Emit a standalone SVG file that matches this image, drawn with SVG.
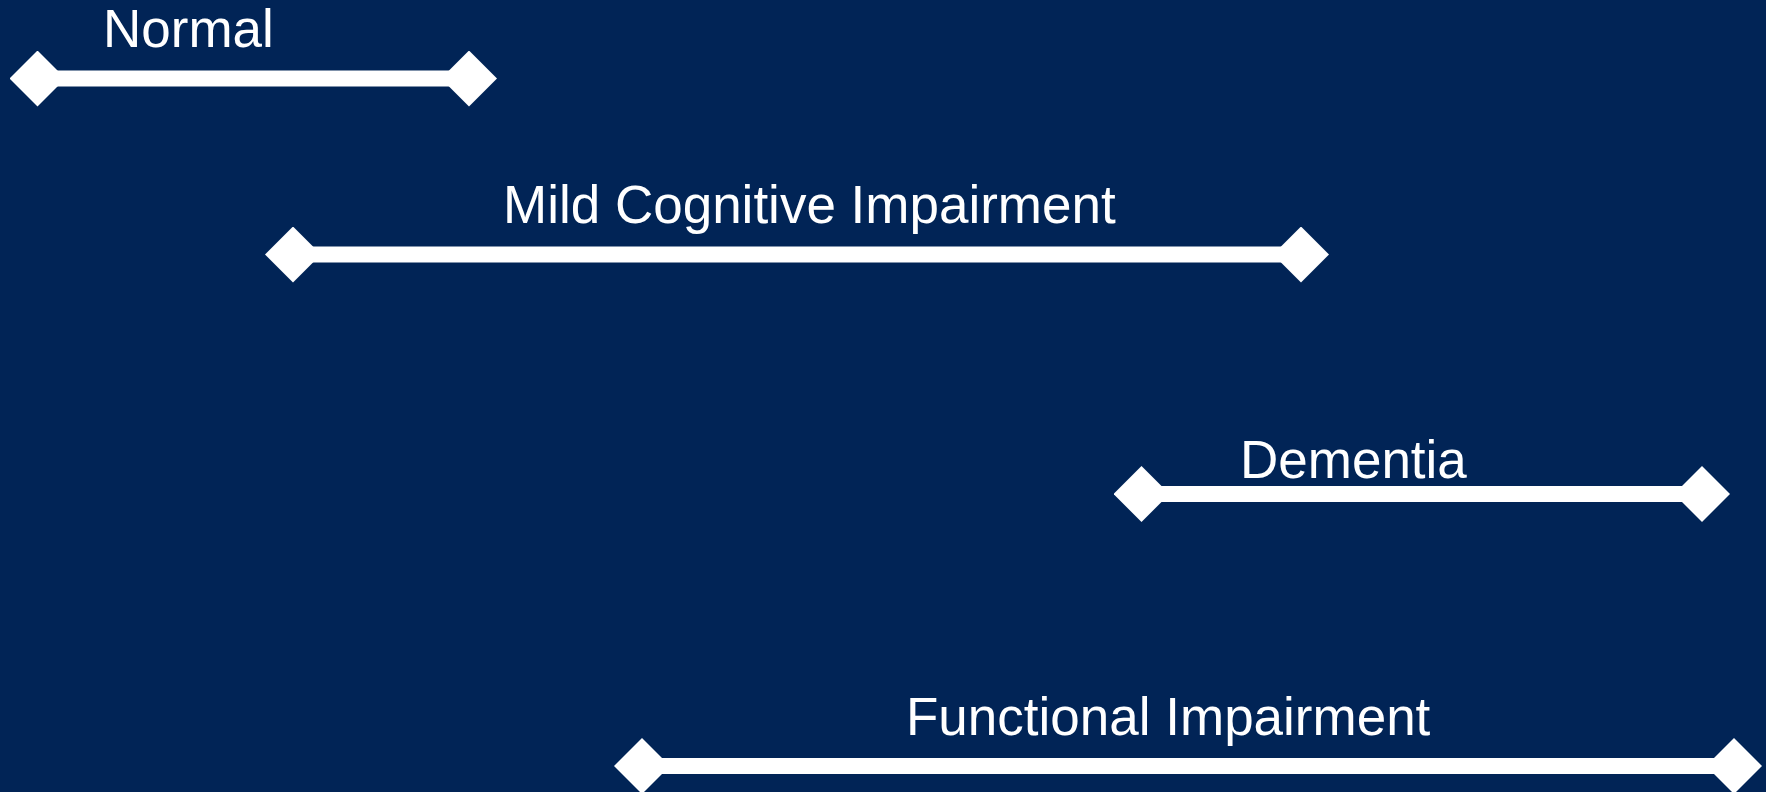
<svg xmlns="http://www.w3.org/2000/svg" width="1766" height="792" viewBox="0 0 1766 792">
  <defs>
    <marker id="diamond" viewBox="-28 -28 56 56" markerWidth="56" markerHeight="56" refX="0" refY="0" markerUnits="userSpaceOnUse" orient="auto">
      <polygon points="0,-28 28,0 0,28 -28,0" fill="#ffffff"/>
    </marker>
    <style>
      .bar { stroke: #ffffff; stroke-width: 16; fill: none; marker-start: url(#diamond); marker-end: url(#diamond); }
      .label { font-family: "Liberation Sans", Arial, sans-serif; font-size: 53px; fill: #ffffff; }
    </style>
  </defs>
  <rect x="0" y="0" width="1766" height="792" fill="#012456"/>
  <g id="connectors">
    <line class="bar" x1="37.5" y1="78.5" x2="469" y2="78.5"/>
    <line class="bar" x1="293" y1="254.5" x2="1301" y2="254.5"/>
    <line class="bar" x1="1141.5" y1="494" x2="1702" y2="494"/>
    <line class="bar" x1="642" y1="766" x2="1734" y2="766"/>
  </g>
  <g id="normal">
    <text class="label" x="103" y="46.5">Normal</text>
  </g>
  <g id="mci">
    <text class="label" x="503" y="222.5">Mild Cognitive Impairment</text>
  </g>
  <g id="dementia">
    <text class="label" x="1240" y="477.5">Dementia</text>
  </g>
  <g id="functional-impairment">
    <text class="label" x="906" y="734.5">Functional Impairment</text>
  </g>
</svg>
